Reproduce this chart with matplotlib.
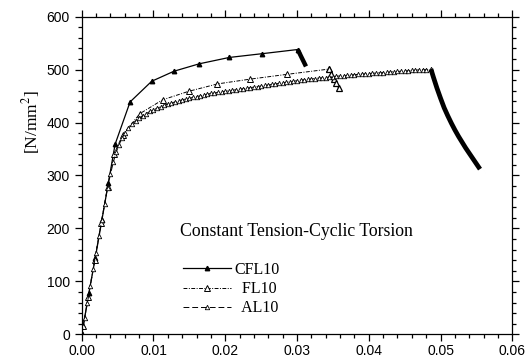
import matplotlib

matplotlib.use("Agg")
import matplotlib.pyplot as plt
from matplotlib.ticker import MultipleLocator, FormatStrFormatter

plt.rcParams["mathtext.fontset"] = "stix"

# CFL10: monotonic part and the cyclic drop
cfl_x = [0.0, 0.0002, 0.0010, 0.0019, 0.0028, 0.0037, 0.00465, 0.00674, 0.00975,
         0.01286, 0.01638, 0.02057, 0.02508, 0.03010]
cfl_y = [0, 15, 78, 145, 215, 285, 359, 439, 478, 497, 511, 523, 530, 538]
cfl_drop_x = [0.03010, 0.03060, 0.03100, 0.03125]
cfl_drop_y = [538, 524, 513, 506]

# FL10
fl_x = [0.0, 0.0002, 0.0009, 0.0018, 0.0027, 0.0036, 0.0045, 0.00571, 0.00812,
        0.01128, 0.01490, 0.01892, 0.02345, 0.02856, 0.03445]
fl_y = [0, 15, 70, 140, 210, 278, 340, 377, 417, 443, 459, 473, 482, 491, 501]
fl_drop_x = [0.03445, 0.03480, 0.03515, 0.03550, 0.03585]
fl_drop_y = [501, 492, 483, 474, 465]

# AL10
al_x = [0.0, 0.0004, 0.0008, 0.0012, 0.0016, 0.0020, 0.0024, 0.0028, 0.0032, 0.0036,
        0.0040, 0.0044, 0.0048, 0.0052, 0.0056, 0.0060, 0.0065, 0.0070, 0.0075, 0.0080,
        0.0085, 0.0090, 0.0095, 0.0100, 0.0105, 0.0110, 0.0115, 0.0120, 0.0125, 0.0130,
        0.0135, 0.0140, 0.0145, 0.0150, 0.0155, 0.0160, 0.0165, 0.0170, 0.0175, 0.0180,
        0.0185, 0.0190, 0.0195, 0.0200, 0.0205, 0.0210, 0.0215, 0.0220, 0.0225, 0.0230,
        0.0235, 0.0240, 0.0245, 0.0250, 0.0255, 0.0260, 0.0265, 0.0270, 0.0275, 0.0280,
        0.0285, 0.0290, 0.0295, 0.0300, 0.0305, 0.0310, 0.0315, 0.0320, 0.0325, 0.0330,
        0.0335, 0.0340, 0.0345, 0.0350, 0.0355, 0.0360, 0.0365, 0.0370, 0.0375, 0.0380,
        0.0385, 0.0390, 0.0395, 0.0400, 0.0405, 0.0410, 0.0415, 0.0420, 0.0425, 0.0430,
        0.0435, 0.0440, 0.0445, 0.0450, 0.0455, 0.0460, 0.0465, 0.0470, 0.0475, 0.0480,
        0.0487]
al_y = [0, 30, 60, 92, 123, 154, 185, 216, 247, 277,
        302, 325, 344, 358, 370, 380, 389, 397, 403, 409,
        413, 417, 421, 424, 427, 430, 432.5, 435, 437, 439,
        441, 443, 444.5, 446, 447.5, 449, 450.5, 452, 453.5, 455,
        456, 457, 458, 459, 460, 461, 462, 463, 464, 465,
        466, 467, 468, 469, 470, 471, 472, 473, 474, 475,
        476, 477, 478, 479, 480, 481, 481.5, 482.5, 483, 484,
        484.5, 485, 486, 486.5, 487.5, 488, 488.5, 489, 490, 490.5,
        491, 491.5, 492, 492.5, 493, 493.5, 494, 494.5, 495, 495.5,
        496, 496.5, 497, 497.5, 498, 498.5, 499, 499.5, 500, 500,
        501]
al_drop_x = [0.04866, 0.0490, 0.0495, 0.0500, 0.0505, 0.0510, 0.0515, 0.0520,
             0.0525, 0.0530, 0.0535, 0.0540, 0.0545, 0.0550, 0.0555]
al_drop_y = [501, 486, 465, 446, 428, 413, 399, 386, 374, 363, 352, 342, 332, 322, 312]

fig = plt.figure(figsize=(5.31, 3.58), dpi=100)
ax = fig.add_axes([0.1539, 0.0662, 0.8109, 0.8872])

ax.plot(cfl_x, cfl_y, color="black", lw=0.9, ls="-", marker="^", ms=3.2,
        mfc="black", mec="black", label="CFL10")
ax.plot(cfl_drop_x, cfl_drop_y, color="black", lw=3.2, solid_capstyle="butt")

ax.plot(fl_x, fl_y, color="black", lw=0.7, ls=(0, (4, 1.5, 1, 1.5)), marker="^",
        ms=4, mfc="white", mec="black", mew=0.7, label="  FL10")
ax.plot(fl_drop_x, fl_drop_y, color="black", lw=1.2, marker="^", ms=4,
        mfc="white", mec="black", mew=0.9)

ax.plot(al_x, al_y, color="black", lw=0.7, ls=(0, (6, 3)), marker="^", ms=3.2,
        mfc="white", mec="black", mew=0.6, label="  AL10")
ax.plot(al_drop_x, al_drop_y, color="black", lw=3.4, solid_capstyle="butt",
        solid_joinstyle="round")

ax.set_xlim(0, 0.06)
ax.set_ylim(0, 600)
ax.xaxis.set_major_locator(MultipleLocator(0.01))
ax.xaxis.set_minor_locator(MultipleLocator(0.002))
ax.yaxis.set_major_locator(MultipleLocator(100))
ax.yaxis.set_minor_locator(MultipleLocator(20))
ax.xaxis.set_major_formatter(FormatStrFormatter("%.2f"))

ax.tick_params(which="both", direction="out", top=True, right=True,
               labeltop=False, labelright=False, width=0.9, color="black")
ax.tick_params(which="major", length=5)
ax.tick_params(which="minor", length=3)
ax.tick_params(axis="x", which="major", pad=2)
for tl in ax.get_xticklabels() + ax.get_yticklabels():
    tl.set_fontfamily("Liberation Sans")
    tl.set_fontsize(10)
for sp in ax.spines.values():
    sp.set_linewidth(0.9)

ax.set_ylabel(r"[N/mm$^{2}$]", fontfamily="Liberation Serif", fontsize=12.5)
ax.yaxis.set_label_coords(-0.092, 0.668)

ax.text(0.228, 0.323, "Constant Tension-Cyclic Torsion", transform=ax.transAxes,
        fontfamily="Liberation Serif", fontsize=12.8, va="center", ha="left")

leg = ax.legend(loc="lower left", bbox_to_anchor=(0.22, 0.036), frameon=False,
                prop={"family": "Liberation Serif", "size": 11.5},
                handlelength=3.0, handletextpad=0.2, labelspacing=0.2,
                borderaxespad=0)

fig.savefig("out.png", dpi=100)
